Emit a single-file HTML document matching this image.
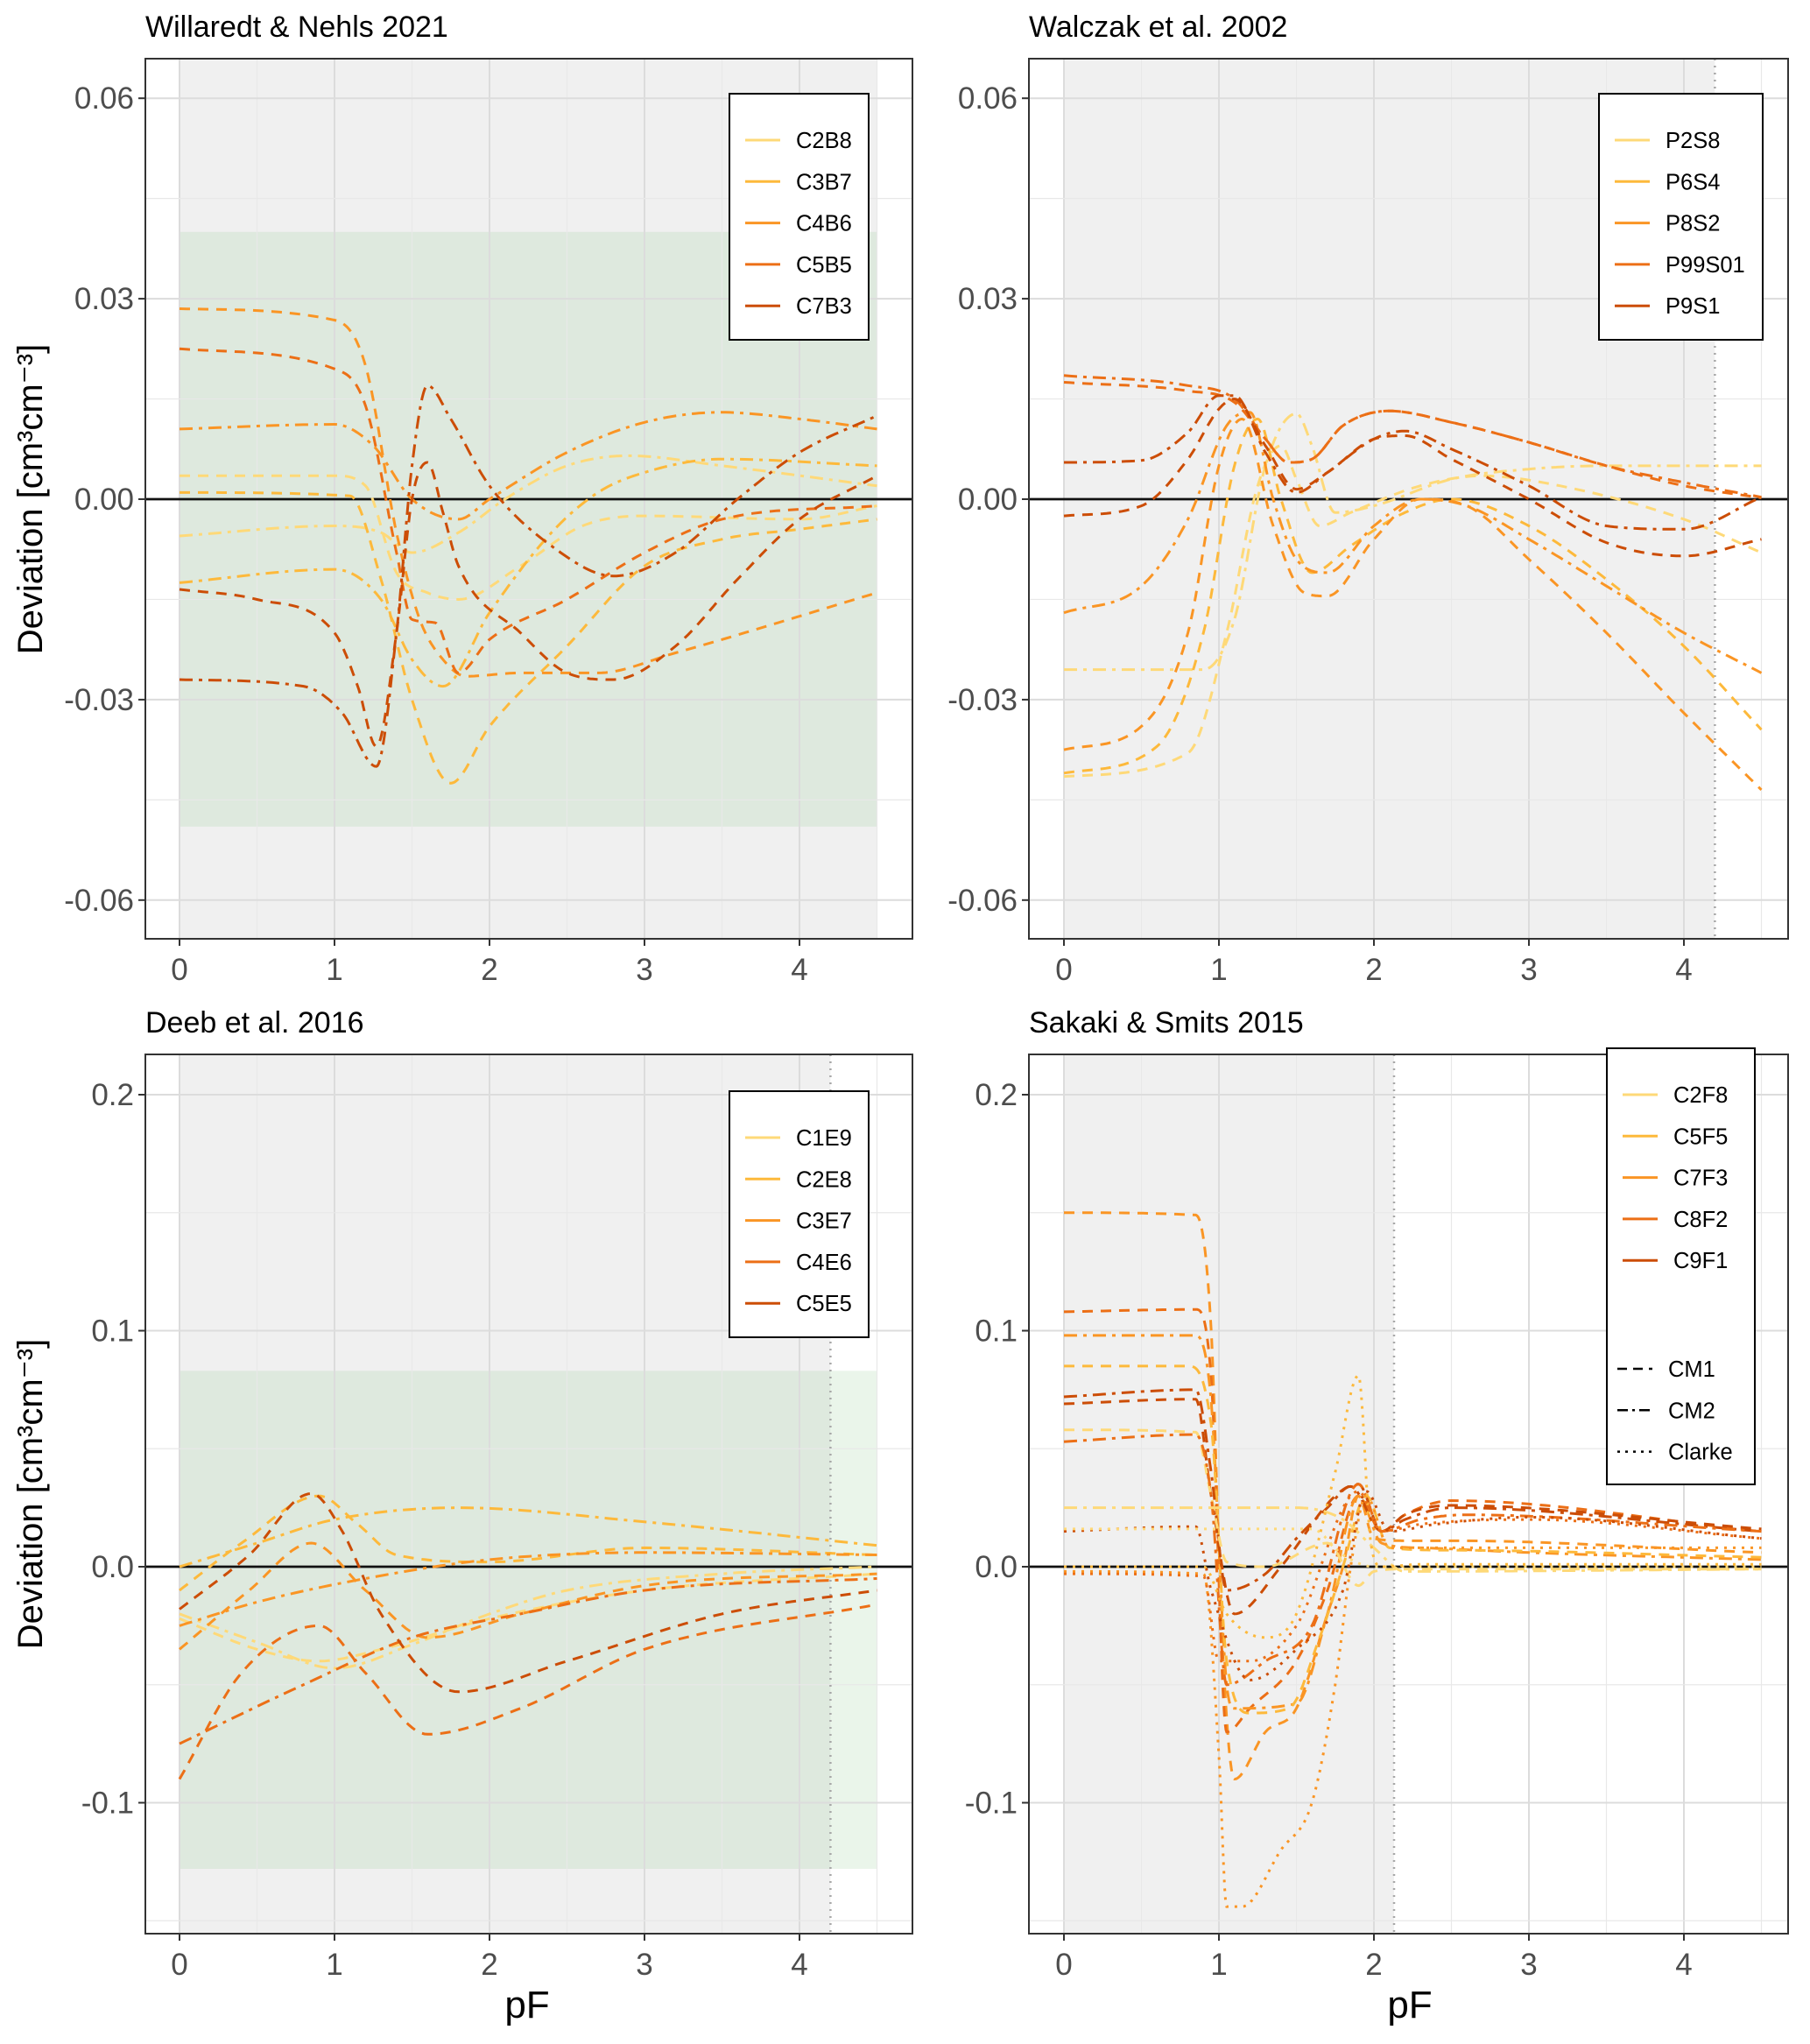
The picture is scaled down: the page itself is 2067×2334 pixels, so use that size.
<!DOCTYPE html>
<html><head><meta charset="utf-8"><style>
html,body{margin:0;padding:0;background:#fff;}
svg text{font-family:"Liberation Sans",sans-serif;}
</style></head><body>
<svg id="fig" xmlns="http://www.w3.org/2000/svg" width="2067" height="2329" viewBox="0 0 2067 2329"></svg>
<script>
// ---------- data ----------
const pfTicks = [0,1,2,3,4];
const yTicksTop = [-0.06,-0.03,0,0.03,0.06];
const yTickLabelsTop = ["-0.06","-0.03","0.00","0.03","0.06"];
const yTicksBottom = [-0.1,0,0.1,0.2];
const yTickLabelsBottom = ["-0.1","0.0","0.1","0.2"];

const p1Names = ["C2B8","C3B7","C4B6","C5B5","C7B3"];
const p1Series = [
 {s:0,t:"dash",pts:[[0,0.0035],[1,0.0035],[1.2,0.002],[1.4,-0.011],[1.6,-0.014],[1.8,-0.015],[2.2,-0.01],[2.6,-0.004],[3,-0.0025],[4,-0.003],[4.5,-0.001]]},
 {s:0,t:"dashdot",pts:[[0,-0.0055],[1,-0.004],[1.3,-0.005],[1.5,-0.008],[1.8,-0.005],[2.1,0],[2.5,0.005],[2.9,0.0065],[3.5,0.005],[4.5,0.002]]},
 {s:1,t:"dash",pts:[[0,0.001],[1.1,0.0005],[1.3,-0.012],[1.5,-0.03],[1.75,-0.0425],[2,-0.034],[2.5,-0.022],[3,-0.01],[3.5,-0.006],[4,-0.0045],[4.5,-0.003]]},
 {s:1,t:"dashdot",pts:[[0,-0.0125],[1,-0.0105],[1.3,-0.015],[1.5,-0.024],[1.7,-0.028],[2,-0.017],[2.4,-0.005],[2.7,0.001],[3,0.004],[3.5,0.006],[4.5,0.005]]},
 {s:2,t:"dash",pts:[[0,0.0285],[1,0.0268],[1.2,0.02],[1.4,-0.005],[1.55,-0.018],[1.7,-0.024],[1.85,-0.0265],[2.2,-0.026],[2.7,-0.026],[3.2,-0.023],[4.5,-0.014]]},
 {s:2,t:"dashdot",pts:[[0,0.0105],[1,0.0112],[1.25,0.008],[1.5,0],[1.8,-0.003],[2,0],[2.5,0.007],[3,0.0115],[3.5,0.013],[4,0.012],[4.5,0.0105]]},
 {s:3,t:"dash",pts:[[0,0.0225],[1,0.0195],[1.2,0.014],[1.4,-0.008],[1.5,-0.018],[1.65,-0.0185],[1.8,-0.026],[2,-0.021],[2.5,-0.015],[3,-0.008],[3.5,-0.003],[4.5,-0.001]]},
 {s:4,t:"dash",pts:[[0,-0.0135],[0.5,-0.015],[1,-0.02],[1.15,-0.028],[1.27,-0.037],[1.4,-0.02],[1.5,0],[1.6,0.0055],[1.7,-0.002],[1.8,-0.01],[2.2,-0.02],[2.5,-0.026],[2.8,-0.027],[3.2,-0.022],[3.6,-0.012],[4,-0.003],[4.5,0.0035]]},
 {s:4,t:"dashdot",pts:[[0,-0.027],[0.8,-0.028],[1.05,-0.032],[1.27,-0.04],[1.4,-0.02],[1.5,0.005],[1.6,0.017],[1.75,0.012],[2,0.002],[2.4,-0.007],[2.8,-0.0115],[3.2,-0.008],[3.6,0],[4,0.007],[4.5,0.0125]]}
];

const p2Names = ["P2S8","P6S4","P8S2","P99S01","P9S1"];
const p2Series = [
 {s:0,t:"dashdot",pts:[[0,-0.0255],[0.9,-0.0255],[1.1,-0.018],[1.3,0.005],[1.5,0.0128],[1.6,0.008],[1.75,-0.002],[2,-0.001],[2.5,0.003],[3,0.0045],[3.5,0.005],[4.5,0.005]]},
 {s:0,t:"dash",pts:[[0,-0.0415],[0.8,-0.038],[1.05,-0.02],[1.25,0.002],[1.4,0.008],[1.5,0.003],[1.65,-0.004],[1.85,-0.002],[2.3,0.002],[2.7,0.0035],[3.2,0.002],[4,-0.003],[4.5,-0.008]]},
 {s:1,t:"dash",pts:[[0,-0.041],[0.6,-0.037],[0.9,-0.02],[1.1,0.005],[1.25,0.012],[1.4,0.0],[1.6,-0.011],[1.85,-0.007],[2.2,-0.002],[2.5,0],[3,-0.004],[3.5,-0.012],[4,-0.022],[4.5,-0.0345]]},
 {s:2,t:"dashdot",pts:[[0,-0.017],[0.5,-0.013],[0.8,-0.003],[1.05,0.011],[1.2,0.013],[1.35,0],[1.5,-0.009],[1.7,-0.011],[2,-0.004],[2.3,0],[2.6,-0.001],[3,-0.006],[3.5,-0.013],[4,-0.02],[4.5,-0.026]]},
 {s:2,t:"dash",pts:[[0,-0.0375],[0.5,-0.034],[0.8,-0.02],[1,0.005],[1.15,0.012],[1.35,-0.004],[1.55,-0.014],[1.7,-0.0145],[2,-0.006],[2.3,0],[2.6,-0.001],[3,-0.009],[3.5,-0.02],[4,-0.032],[4.5,-0.0435]]},
 {s:3,t:"dashdot",pts:[[0,0.0185],[0.8,0.017],[1.1,0.015],[1.3,0.009],[1.45,0.0055],[1.6,0.006],[1.8,0.011],[2.1,0.0132],[2.5,0.0115],[3,0.0085],[3.5,0.005],[4,0.0025],[4.5,0.0003]]},
 {s:3,t:"dash",pts:[[0,0.0175],[0.8,0.0162],[1.1,0.0145],[1.3,0.009],[1.45,0.0055],[1.6,0.006],[1.8,0.011],[2.1,0.0132],[2.5,0.0115],[3,0.0085],[3.5,0.005],[4,0.002],[4.5,0.0002]]},
 {s:4,t:"dash",pts:[[0,-0.0025],[0.5,-0.001],[0.8,0.006],[1.0,0.0135],[1.1,0.015],[1.3,0.008],[1.5,0.0015],[1.7,0.004],[2,0.009],[2.2,0.0095],[2.5,0.006],[3,0],[3.5,-0.0065],[4,-0.0085],[4.5,-0.006]]},
 {s:4,t:"dashdot",pts:[[0,0.0055],[0.5,0.0058],[0.8,0.01],[1.0,0.0155],[1.1,0.0155],[1.3,0.007],[1.5,0.001],[1.7,0.004],[2,0.009],[2.2,0.0102],[2.5,0.0075],[3,0.002],[3.5,-0.004],[4,-0.0045],[4.5,0.0003]]}
];

const p3Names = ["C1E9","C2E8","C3E7","C4E6","C5E5"];
const p3Series = [
 {s:0,t:"dashdot",pts:[[0,-0.02],[0.5,-0.032],[1,-0.043],[1.5,-0.033],[2,-0.02],[2.5,-0.01],[3.5,-0.003],[4.5,0]]},
 {s:0,t:"dash",pts:[[0,-0.022],[0.5,-0.035],[0.9,-0.04],[1.3,-0.035],[2,-0.022],[3,-0.01],[4.5,-0.003]]},
 {s:1,t:"dashdot",pts:[[0,0],[0.5,0.01],[1,0.02],[1.8,0.025],[3,0.019],[4.5,0.009]]},
 {s:1,t:"dash",pts:[[0,-0.01],[0.4,0.01],[0.9,0.03],[1.15,0.018],[1.4,0.005],[2,0.002],[3,0.008],[4.5,0.005]]},
 {s:2,t:"dash",pts:[[0,-0.035],[0.45,-0.01],[0.85,0.01],[1.2,-0.01],[1.6,-0.03],[2.2,-0.02],[3,-0.008],[4.5,-0.003]]},
 {s:2,t:"dashdot",pts:[[0,-0.025],[0.5,-0.015],[1.2,-0.005],[2,0.003],[3,0.006],[4.5,0.005]]},
 {s:3,t:"dash",pts:[[0,-0.09],[0.4,-0.045],[0.9,-0.025],[1.2,-0.045],[1.6,-0.071],[2.2,-0.06],[3,-0.035],[4.5,-0.016]]},
 {s:3,t:"dashdot",pts:[[0,-0.075],[0.8,-0.05],[1.5,-0.03],[2.2,-0.02],[3,-0.01],[4.5,-0.005]]},
 {s:4,t:"dash",pts:[[0,-0.018],[0.45,0.005],[0.85,0.031],[1.05,0.015],[1.3,-0.02],[1.8,-0.053],[2.5,-0.04],[3.5,-0.02],[4.5,-0.01]]}
];

const p4Names = ["C2F8","C5F5","C7F3","C8F2","C9F1"];
const p4Types = ["CM1","CM2","Clarke"];
const p4Series = [
 {s:2,t:"dash",pts:[[0,0.15],[0.85,0.149],[0.95,0.1],[1.02,-0.03],[1.1,-0.09],[1.3,-0.07],[1.5,-0.06],[1.7,-0.02],[1.8,0],[1.9,0.03],[2.0,0.012],[2.2,0.011],[2.5,0.011],[4.5,0.006]]},
 {s:3,t:"dash",pts:[[0,0.108],[0.85,0.109],[0.95,0.08],[1.05,-0.07],[1.2,-0.06],[1.5,-0.04],[1.7,-0.01],[1.9,0.03],[2.05,0.015],[2.2,0.022],[2.5,0.028],[4.5,0.015]]},
 {s:2,t:"dashdot",pts:[[0,0.098],[0.85,0.098],[0.95,0.07],[1.05,-0.05],[1.1,-0.06],[1.5,-0.058],[1.7,-0.02],[1.9,0.03],[2.05,0.01],[2.3,0.008],[3,0.006],[4.5,0.003]]},
 {s:1,t:"dash",pts:[[0,0.085],[0.8,0.085],[0.95,0.06],[1.05,-0.04],[1.2,-0.062],[1.45,-0.06],[1.65,-0.03],[1.8,0],[1.95,0.03],[2.1,0.008],[2.5,0.007],[4.5,0.004]]},
 {s:4,t:"dashdot",pts:[[0,0.072],[0.85,0.075],[0.95,0.04],[1.05,-0.01],[1.3,-0.003],[1.5,0.012],[1.7,0.025],[1.85,0.034],[2.05,0.015],[2.2,0.02],[2.5,0.025],[4.5,0.015]]},
 {s:4,t:"dash",pts:[[0,0.069],[0.85,0.071],[0.95,0.03],[1.1,-0.02],[1.4,0],[1.75,0.03],[1.9,0.035],[2.05,0.015],[2.2,0.022],[2.5,0.026],[4.5,0.016]]},
 {s:0,t:"dash",pts:[[0,0.058],[0.85,0.057],[0.95,0.03],[1.05,0.002],[1.3,0],[1.7,0.01],[1.9,-0.008],[2.0,-0.002],[2.2,-0.001],[4.5,-0.001]]},
 {s:3,t:"dashdot",pts:[[0,0.053],[0.85,0.056],[0.95,0.03],[1.05,-0.05],[1.3,-0.04],[1.6,-0.025],[1.9,0.035],[2.05,0.015],[2.3,0.02],[2.6,0.022],[4.5,0.015]]},
 {s:0,t:"dashdot",pts:[[0,0.025],[1.5,0.025],[1.8,0.02],[2.0,0.008],[2.2,-0.002],[4.5,-0.001]]},
 {s:4,t:"dot",pts:[[0,0.015],[0.85,0.017],[0.95,-0.01],[1.2,-0.048],[1.5,-0.035],[1.8,-0.01],[1.95,0.032],[2.1,0.015],[2.4,0.018],[3,0.021],[4.5,0.012]]},
 {s:2,t:"dot",pts:[[0,-0.002],[0.9,-0.003],[1.0,-0.08],[1.05,-0.144],[1.15,-0.144],[1.4,-0.12],[1.6,-0.1],[1.75,-0.05],[1.85,0],[1.95,0.03],[2.1,0.008],[4.5,0.008]]},
 {s:0,t:"dot",pts:[[0,0.016],[0.9,0.016],[1.0,0.016],[1.6,0.016],[1.8,0.005],[2.0,0],[4.5,0]]},
 {s:1,t:"dot",pts:[[0,0],[0.9,0],[1.05,-0.02],[1.3,-0.03],[1.5,-0.02],[1.75,0.04],[1.9,0.081],[1.98,0.01],[2.05,0],[2.3,0.001],[4.5,0.001]]},
 {s:3,t:"dot",pts:[[0,-0.003],[0.9,-0.004],[1.0,-0.04],[1.2,-0.04],[1.5,-0.025],[1.9,0.032],[2.05,0.015],[2.3,0.018],[3,0.02],[4.5,0.012]]}
];

const colors = ["#fed978","#fdb93b","#fa9524","#ec6f16","#cc4d06"];
const dashes = {dash:"12 9", dashdot:"15 7 4 7", dot:"3 7"};

// ---------- drawing ----------
const NS="http://www.w3.org/2000/svg";
const svg=document.getElementById('fig');
function mk(tag,attrs,parent){const e=document.createElementNS(NS,tag);for(const k in attrs)e.setAttribute(k,attrs[k]);(parent||svg).appendChild(e);return e;}

function monotone(pts,n){
  const xs=pts.map(p=>p[0]),ys=pts.map(p=>p[1]),m=pts.length;
  const d=[],ms=new Array(m);
  for(let i=0;i<m-1;i++)d.push((ys[i+1]-ys[i])/(xs[i+1]-xs[i]));
  ms[0]=d[0];ms[m-1]=d[m-2];
  for(let i=1;i<m-1;i++){ms[i]=(d[i-1]*d[i]<=0)?0:(d[i-1]+d[i])/2;}
  for(let i=0;i<m-1;i++){if(d[i]===0){ms[i]=0;ms[i+1]=0;continue;}const a=ms[i]/d[i],b=ms[i+1]/d[i],s=a*a+b*b;if(s>9){const t=3/Math.sqrt(s);ms[i]=t*a*d[i];ms[i+1]=t*b*d[i];}}
  const out=[];
  for(let i=0;i<m-1;i++){const h=xs[i+1]-xs[i];for(let k=0;k<n;k++){const t=k/n,t2=t*t,t3=t2*t;
    const y=(2*t3-3*t2+1)*ys[i]+(t3-2*t2+t)*h*ms[i]+(-2*t3+3*t2)*ys[i+1]+(t3-t2)*h*ms[i+1];out.push([xs[i]+t*h,y]);}}
  out.push([xs[m-1],ys[m-1]]);return out;
}

function panel(cfg){
  const g=mk('g',{});
  
  
  const [L,T,R,B]=cfg.box;
  const X=v=>cfg.x0+v*177, Y=v=>cfg.y0-v*cfg.yu;
  const clipId=cfg.name+'-clip';
  const cp=mk('clipPath',{id:clipId},g);mk('rect',{x:L,y:T,width:R-L,height:B-T},cp);
  const plot=mk('g',{'clip-path':'url(#'+clipId+')'},g);
  const gr=mk('rect',{x:X(0),y:T,width:X(cfg.grayTo)-X(0),height:B-T,fill:'#f0f0f0'},plot);
  
  
  if(cfg.green){const gn=mk('rect',{x:X(0),y:Y(cfg.green[1]),width:X(4.5)-X(0),height:Y(cfg.green[0])-Y(cfg.green[1]),fill:'rgba(150,205,150,0.2)'},plot);
    
    }
  for(let v=0;v<=4.5;v+=0.5){mk('line',{x1:X(v),x2:X(v),y1:T,y2:B,stroke:(v%1===0)?'#dcdcdc':'#e8e8e8','stroke-width':(v%1===0)?2:1.2},plot);}
  const st=cfg.yt[1]-cfg.yt[0];
  for(let v=cfg.yt[0]-st;v<=cfg.yt[cfg.yt.length-1]+st;v+=st/2){const maj=Math.abs(Math.round(v/st)*st-v)<1e-9;
    mk('line',{x1:L,x2:R,y1:Y(v),y2:Y(v),stroke:maj?'#dcdcdc':'#e8e8e8','stroke-width':maj?2:1.2},plot);}
  if(cfg.dotLine){mk('line',{x1:X(cfg.grayTo),x2:X(cfg.grayTo),y1:T,y2:B,stroke:'#a8a8a8','stroke-width':2.5,'stroke-dasharray':'2 6'},plot);}
  const z=mk('line',{x1:L,x2:R,y1:Y(0),y2:Y(0),stroke:'#111','stroke-width':2.8},plot);
  
  
  cfg.series.forEach((s,i)=>{
    const pts=monotone(s.pts,20);
    const d='M'+pts.map(p=>X(p[0]).toFixed(1)+','+Y(p[1]).toFixed(1)).join('L');
    const p=mk('path',{d:d,fill:'none',stroke:colors[s.s],'stroke-width':3,'stroke-dasharray':dashes[s.t]},plot);
    
    
  });
  mk('rect',{x:L,y:T,width:R-L,height:B-T,fill:'none',stroke:'#333','stroke-width':2},g);
  cfg.yt.forEach((v,i)=>{mk('line',{x1:L-8,x2:L,y1:Y(v),y2:Y(v),stroke:'#333','stroke-width':2},g);
    const t=mk('text',{x:L-13,y:Y(v)+12,'text-anchor':'end','font-size':35,fill:'#4d4d4d'},g);t.textContent=cfg.ytl[i];
    
    });
  pfTicks.forEach(v=>{mk('line',{x1:X(v),x2:X(v),y1:B,y2:B+8,stroke:'#333','stroke-width':2},g);
    const t=mk('text',{x:X(v),y:B+47,'text-anchor':'middle','font-size':35,fill:'#4d4d4d'},g);t.textContent=String(v);
    
    });
  const ti=mk('text',{x:L,y:T-25,'font-size':34,fill:'#000'},g);ti.textContent=cfg.title;
  
  
  const lb=cfg.legend;
  const lg=mk('g',{},g);
  
  
  mk('rect',{x:lb[0],y:lb[1],width:lb[2]-lb[0],height:lb[3]-lb[1],fill:'#fff',stroke:'#000','stroke-width':2},lg);
  cfg.names.forEach((n,i)=>{const yy=lb[1]+53+i*47.3;
    mk('line',{x1:lb[0]+18,x2:lb[0]+58,y1:yy,y2:yy,stroke:colors[i],'stroke-width':3},lg);
    const t=mk('text',{x:lb[0]+76,y:yy+9,'font-size':25.5,fill:'#000'},lg);t.textContent=n;
    
    });
  if(cfg.types){const tk=['dash','dashdot','dot'];cfg.types.forEach((n,i)=>{const yy=lb[1]+366+i*47.3;
    mk('line',{x1:lb[0]+12,x2:lb[0]+52,y1:yy,y2:yy,stroke:'#000','stroke-width':2.5,'stroke-dasharray':tk[i]==='dash'?'11 7':tk[i]==='dashdot'?'12 5 3 5':'3 6'},lg);
    const t=mk('text',{x:lb[0]+70,y:yy+9,'font-size':25.5,fill:'#000'},lg);t.textContent=n;
    
    });}
}

panel({name:'panel-willaredt',title:'Willaredt & Nehls 2021',box:[166,67,1042,1072],x0:205,y0:570,yu:7630,yt:yTicksTop,ytl:yTickLabelsTop,grayTo:4.5,green:[-0.049,0.04],legend:[833,107,992,388],names:p1Names,series:p1Series});
panel({name:'panel-walczak',title:'Walczak et al. 2002',box:[1175,67,2042,1072],x0:1215,y0:570,yu:7630,yt:yTicksTop,ytl:yTickLabelsTop,grayTo:4.2,dotLine:true,legend:[1826,107,2013,388],names:p2Names,series:p2Series});
panel({name:'panel-deeb',title:'Deeb et al. 2016',box:[166,1204,1042,2208],x0:205,y0:1789,yu:2695,yt:yTicksBottom,ytl:yTickLabelsBottom,grayTo:4.2,dotLine:true,green:[-0.128,0.083],legend:[833,1246,992,1527],names:p3Names,series:p3Series});
panel({name:'panel-sakaki',title:'Sakaki & Smits 2015',box:[1175,1204,2042,2208],x0:1215,y0:1789,yu:2695,yt:yTicksBottom,ytl:yTickLabelsBottom,grayTo:2.13,dotLine:true,legend:[1835,1197,2004,1695],names:p4Names,types:p4Types,series:p4Series});

[[570,'y-axis-title-top'],[1706,'y-axis-title-bottom']].forEach(a=>{
  const t=mk('text',{x:0,y:0,'font-size':40,'text-anchor':'middle',fill:'#000',transform:'translate(48,'+a[0]+') rotate(-90)'});
  t.textContent='Deviation [cm³cm⁻³]';
  
  
});
[[602,'x-axis-title-left'],[1610,'x-axis-title-right']].forEach(a=>{
  const t=mk('text',{x:a[0],y:2304,'font-size':44,'text-anchor':'middle',fill:'#000'});
  t.textContent='pF';
  
  
});
</script>
</body></html>
